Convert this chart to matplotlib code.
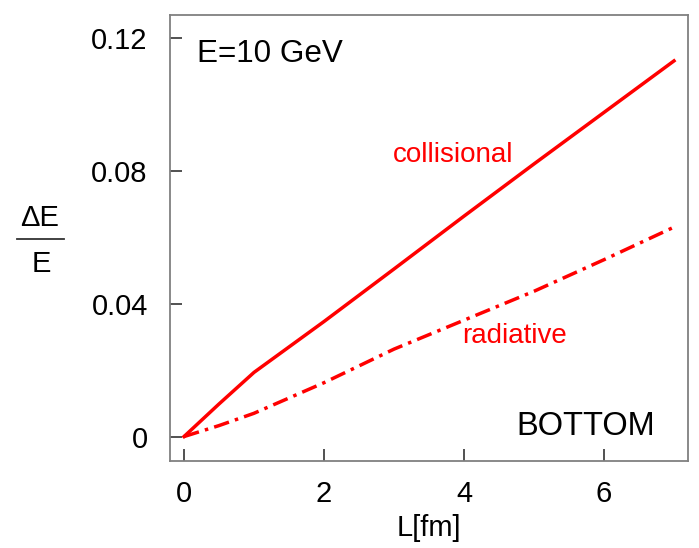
import numpy as np
import matplotlib
matplotlib.use("Agg")
from matplotlib import pyplot as plt
from matplotlib.lines import Line2D

plt.rcParams['font.family'] = ['Liberation Sans', 'DejaVu Sans']

# energy loss fraction vs path length, E = 10 GeV bottom quark
L_fm = [0, 0.5, 1, 2, 3, 4, 5, 6, 7]
collisional = [0, 0.0098, 0.0193, 0.0346, 0.0504, 0.0663, 0.0820, 0.0975, 0.1130]
radiative = [0, 0.0033, 0.0070, 0.0162, 0.0263, 0.0350, 0.0437, 0.0532, 0.0630]

x_ticks = [0, 2, 4, 6]
y_ticks = [0, 0.04, 0.08, 0.12]
y_ticklabels = ['0', '0.04', '0.08', '0.12']

W, H = 699, 548
fig = plt.figure(figsize=(W / 100, H / 100), dpi=100)


def fx(px):
    return px / W


def fy(py):
    return 1 - py / H


ax = fig.add_axes([fx(170), fy(460.5), fx(688) - fx(170), fy(15) - fy(460.5)])

ax.plot(L_fm, collisional, color='#ff0000', lw=2.5, solid_joinstyle='round')
ax.plot(L_fm, radiative, color='#ff0000', lw=2.5, dashes=(4.5, 1.8, 1, 1.8))

ax.set_xlim(-0.2, 7.2)
ax.set_ylim(-0.0072, 0.1268)

for side in ax.spines.values():
    side.set_color('#808080')
    side.set_linewidth(1.3)

ax.set_xticks(x_ticks)
ax.set_yticks(y_ticks)
ax.set_yticklabels(y_ticklabels)
ax.set_xticks(x_ticks, minor=True)
ax.set_yticks(y_ticks, minor=True)
ax.tick_params(which='major', direction='in', length=8.5, width=1.1, color='#222222',
               labelsize=21)
ax.tick_params(which='minor', direction='out', length=4.3, width=1.1, color='#222222')
ax.tick_params(axis='y', which='major', pad=16)
ax.tick_params(axis='x', which='major', pad=14)

ax.set_xlabel('L[fm]', fontsize=21, labelpad=4)

# annotations inside the frame
ax.text(0.18, 0.1127, 'E=10 GeV', fontsize=22.6, va='baseline', ha='left')
ax.text(2.98, 0.0827, 'collisional', fontsize=20, color='#ff0000', va='baseline', ha='left')
ax.text(3.97, 0.0281, 'radiative', fontsize=20, color='#ff0000', va='baseline', ha='left')
ax.text(6.73, 0.0005, 'BOTTOM', fontsize=23.5, va='baseline', ha='right')

# y label drawn as a fraction
fig.text(fx(40), fy(226), '\u0394E', fontsize=21, ha='center', va='baseline')
fig.text(fx(41.5), fy(271.7), 'E', fontsize=21, ha='center', va='baseline')
fig.add_artist(Line2D([fx(16.7), fx(64.3)], [fy(239), fy(239)], color='#333333', lw=1.3,
                      transform=fig.transFigure))

fig.savefig('out.png', dpi=100)
